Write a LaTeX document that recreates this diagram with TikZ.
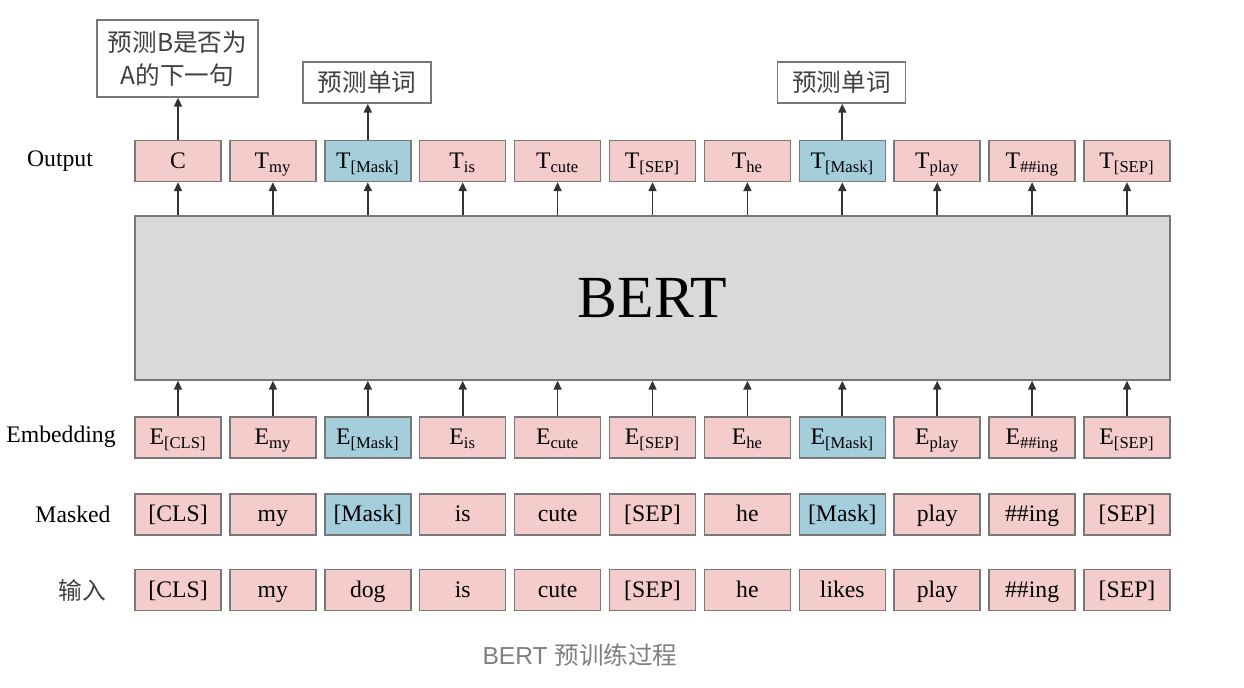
\documentclass[tikz,border=0pt]{standalone}
\usepackage{fontspec}
\setmainfont{Liberation Serif}
\newfontfamily\cjk{Noto Sans CJK SC}
\newfontfamily\capfont{Liberation Sans}
\usepackage{tikz}
\usetikzlibrary{positioning,calc}
\usetikzlibrary{arrows.meta}
\definecolor{TokPink}{RGB}{244,204,204}
\definecolor{TokBlue}{RGB}{164,206,220}
\definecolor{BertGray}{RGB}{217,217,217}
\definecolor{EdgeGray}{RGB}{120,120,120}
\tikzset{tok/.style={rectangle,draw=EdgeGray,line width=0.85pt,fill=TokPink,minimum width=86*0.02cm,minimum height=41*0.02cm,inner sep=0pt,text height=1.95ex,text depth=0.1ex,font=\fontsize{13.5}{15}\selectfont},
masktok/.style={tok,fill=TokBlue},
task/.style={rectangle,draw=EdgeGray,line width=0.85pt,fill=white,inner sep=0pt,align=center,text=black!75,font=\cjk\fontsize{14}{19}\selectfont},
rowlab/.style={font=\fontsize{13.5}{15}\selectfont},
arr/.style={-{Triangle[length=5pt,width=4.5pt]},line width=1pt,black!80}}

\begin{document}
\begin{tikzpicture}[x=0.02cm,y=-0.02cm]
\useasboundingbox (0,0) rectangle (1244,688);
% BERT block
\node[rectangle,draw=EdgeGray,line width=0.85pt,fill=BertGray,minimum width=1035*0.02cm,minimum height=164*0.02cm,inner sep=0pt,font=\fontsize{34}{40}\selectfont] (bert) at (652.5,298) {BERT};
% row labels
\node[rowlab] (lout) at (60,161) {Output};
\node[rowlab] (lemb) at (61,437) {Embedding};
\node[rowlab] (lmask) at (73,514) {Masked};
\node[rowlab,text=black!75,font=\cjk\fontsize{13.5}{15}\selectfont] (lin) at (82,590) {输入};
% token rows
\foreach \t [count=\i] in {C,T\textsubscript{my},T\textsubscript{[Mask]},T\textsubscript{is},T\textsubscript{cute},T\textsubscript{[SEP]},T\textsubscript{he},T\textsubscript{[Mask]},T\textsubscript{play},T\textsubscript{\#\#ing},T\textsubscript{[SEP]}}
  \node[tok] (o\i) at ({178+94.9*(\i-1)},161) {\t};
\foreach \t [count=\i] in {E\textsubscript{[CLS]},E\textsubscript{my},E\textsubscript{[Mask]},E\textsubscript{is},E\textsubscript{cute},E\textsubscript{[SEP]},E\textsubscript{he},E\textsubscript{[Mask]},E\textsubscript{play},E\textsubscript{\#\#ing},E\textsubscript{[SEP]}}
  \node[tok] (e\i) at ({178+94.9*(\i-1)},437.5) {\t};
\foreach \t [count=\i] in {[CLS],my,[Mask],is,cute,[SEP],he,[Mask],play,\#\#ing,[SEP]}
  \node[tok] (m\i) at ({178+94.9*(\i-1)},514.5) {\t};
\foreach \t [count=\i] in {[CLS],my,dog,is,cute,[SEP],he,likes,play,\#\#ing,[SEP]}
  \node[tok] (in\i) at ({178+94.9*(\i-1)},590) {\t};
% masked positions
\foreach \i in {3,8} {
  \node[masktok] at (o\i) {T\textsubscript{[Mask]}};
  \node[masktok] at (e\i) {E\textsubscript{[Mask]}};
  \node[masktok] at (m\i) {[Mask]};
}
% arrows through BERT
\foreach \i in {1,...,11} {
  \draw[arr] (e\i.north) -- (e\i.north |- bert.south);
  \draw[arr] (o\i.south |- bert.north) -- (o\i.south);
}
% prediction tasks
\node[task,minimum width=161*0.02cm,minimum height=77*0.02cm] (nsp) at (177.5,58.5) {预测B是否为\\A的下一句};
\node[task,minimum width=128*0.02cm,minimum height=41*0.02cm] (mlm1) at (367,82.5) {预测单词};
\node[task,minimum width=128*0.02cm,minimum height=41*0.02cm] (mlm2) at (841.5,82.5) {预测单词};
\draw[arr] (o1.north) -- (o1.north |- nsp.south);
\draw[arr] (o3.north) -- (o3.north |- mlm1.south);
\draw[arr] (o8.north) -- (o8.north |- mlm2.south);
% caption
\node[font=\capfont\fontsize{14}{16}\selectfont,text=black!50] (cap) at (580,655) {BERT {\cjk 预训练过程}};
\end{tikzpicture}
\end{document}
